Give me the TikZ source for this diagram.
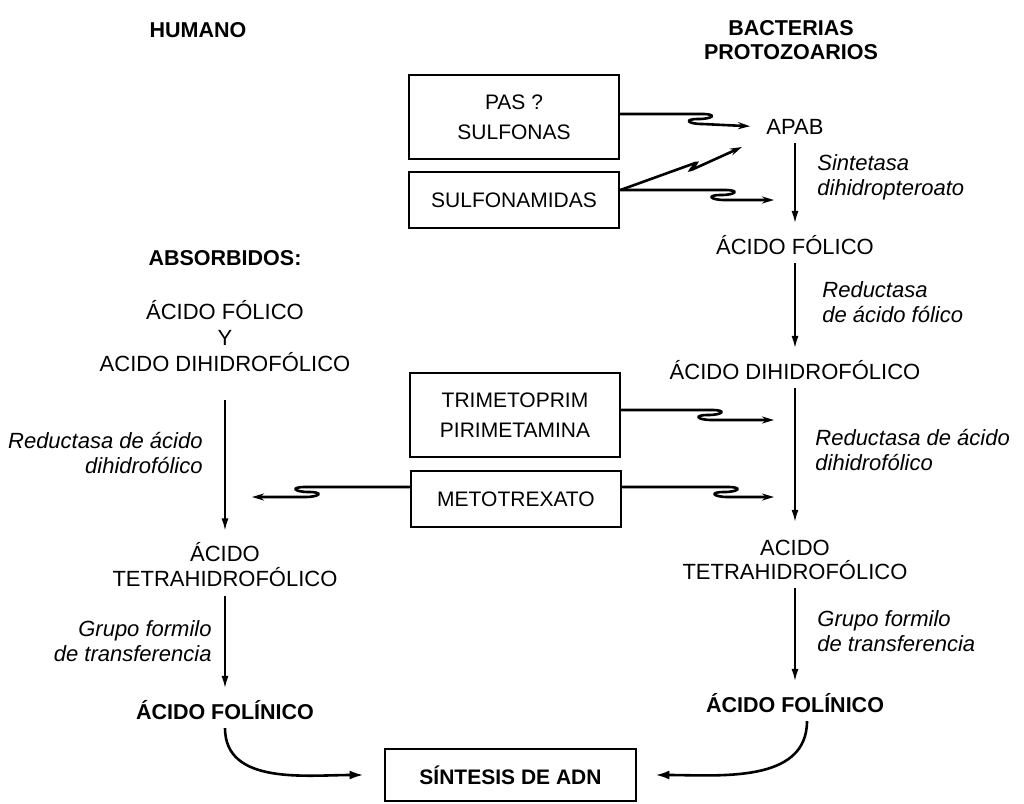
\documentclass[tikz,border=0pt]{standalone}
\usepackage{fontspec}
\setmainfont{Liberation Sans}
\usetikzlibrary{arrows.meta}
\begin{document}
\begin{tikzpicture}[x=0.5pt,y=-0.5pt,
  txt/.style={inner sep=0pt, align=center, font=\fontsize{11}{13}\selectfont},
  hd/.style={inner sep=0pt, align=center, font=\fontsize{10.75}{12}\selectfont\bfseries},
  labr/.style={inner sep=0pt, anchor=west, align=left, font=\fontsize{11}{12.5}\selectfont\itshape},
  labl/.style={inner sep=0pt, anchor=east, align=right, font=\fontsize{11}{12.5}\selectfont\itshape},
  box/.style={draw, line width=1.4pt, inner sep=0pt, align=center, minimum width=105pt, font=\fontsize{10.5}{15}\selectfont},
  flow/.style={line width=0.8pt, -{Latex[length=6pt,width=3.5pt]}, shorten <=4pt, shorten >=6pt},
  zig/.style={line width=1.3pt, line cap=round, -{Stealth[length=6pt,width=3.5pt]}},
  feed/.style={line width=1.3pt, -{Latex[length=7pt,width=4.5pt]}},
  kinkR/.style={insert path={.. controls +(15,0) and +(15,0) .. ++(-4,5) .. controls +(-15,0) and +(-15,0) .. ++(4,5)}},
  kinkL/.style={insert path={.. controls +(-15,0) and +(-15,0) .. ++(4,5) .. controls +(15,0) and +(15,0) .. ++(-4,5)}},
]
\useasboundingbox (0,0) rectangle (1024,804);

% column headings
\node[hd] (hum) at (198,30) {HUMANO};
\node[hd] (bac) at (791,40) {BACTERIAS\\PROTOZOARIOS};

% drug boxes
\node[box, minimum height=42pt] (pas) at (514,117) {PAS ?\\SULFONAS};
\node[box, minimum height=28pt] (sulf) at (514,200) {SULFONAMIDAS};
\node[box, minimum height=42pt] (tri) at (515,415) {TRIMETOPRIM\\PIRIMETAMINA};
\node[box, minimum height=28pt] (met) at (516,499) {METOTREXATO};
\node[box, font=\fontsize{10.5}{12}\selectfont\bfseries, minimum width=125.5pt, minimum height=26pt] (adn) at (510.5,775) {SÍNTESIS DE ADN};

% bacterial / protozoal pathway
\node[txt] (apab) at (795,127) {APAB};
\node[txt] (folr) at (795,245) {ÁCIDO FÓLICO};
\node[txt] (dhfr) at (795,370) {ÁCIDO DIHIDROFÓLICO};
\node[txt, font=\fontsize{11}{12}\selectfont] (thfr) at (795,560) {ACIDO\\TETRAHIDROFÓLICO};
\node[hd] (flnr) at (795,703) {ÁCIDO FOLÍNICO};

\node[labr] (l1) at (817,177) {Sintetasa\\dihidropteroato};
\node[labr] (l2) at (822,302) {Reductasa\\de ácido fólico};
\node[labr] (l3) at (815,450) {Reductasa de ácido\\dihidrofólico};
\node[labr] (l4) at (817,631) {Grupo formilo\\de transferencia};

\draw[flow] (apab.south) -- (folr.north);
\draw[flow] (folr.south) -- (dhfr.north);
\draw[flow, shorten >=9pt] (dhfr.south) -- (thfr.north);
\draw[flow] (thfr.south) -- (flnr.north);

% human pathway
\node[hd] (abs) at (225,258) {ABSORBIDOS:};
\node[txt] (absl) at (225,336) {ÁCIDO FÓLICO\\Y\\ACIDO DIHIDROFÓLICO};
\node[txt, font=\fontsize{11}{12.5}\selectfont] (thfl) at (225,565) {ÁCIDO\\TETRAHIDROFÓLICO};
\node[hd] (flnl) at (225,710) {ÁCIDO FOLÍNICO};

\node[labl] (l5) at (203,453) {Reductasa de ácido\\dihidrofólico};
\node[labl] (l6) at (212,641) {Grupo formilo\\de transferencia};

\draw[flow, shorten <=14pt] (absl.south) -- (thfl.north);
\draw[flow] (thfl.south) -- (flnl.north);

% points where the inhibitor arrows end
\coordinate (bolt) at (742,147);
\coordinate (e1) at (774,200);
\coordinate (e2) at (774,420);
\coordinate (e3) at (774,497);
\coordinate (e4) at (252,497);

% inhibitor arrows
\draw[zig, shorten >=8pt] ([yshift=1.5pt]pas.east) -- ++(82,0) [kinkR] -- (apab.west);
\draw[zig, rounded corners=1.5pt] ([yshift=5pt]sulf.east) -- (698,162) -- (689,171) -- (bolt);
\draw[zig] ([yshift=5pt]sulf.east) -- (725,190) [kinkR] -- (e1);
\draw[zig] ([yshift=2.5pt]tri.east) -- (712,410) [kinkR] -- (e2);
\draw[zig] ([yshift=6pt]met.east) -- (728,487) [kinkR] -- (e3);
\draw[zig] ([yshift=6pt]met.west) -- (305,487) [kinkL] -- (e4);

% both pathways feed DNA synthesis
\draw[feed] ([yshift=-4pt]flnl.south) to[out=-90,in=180] ([xshift=-10pt]adn.west);
\draw[feed] ([xshift=6pt,yshift=-4pt]flnr.south) to[out=-90,in=0] ([xshift=9pt]adn.east);
\end{tikzpicture}
\end{document}
